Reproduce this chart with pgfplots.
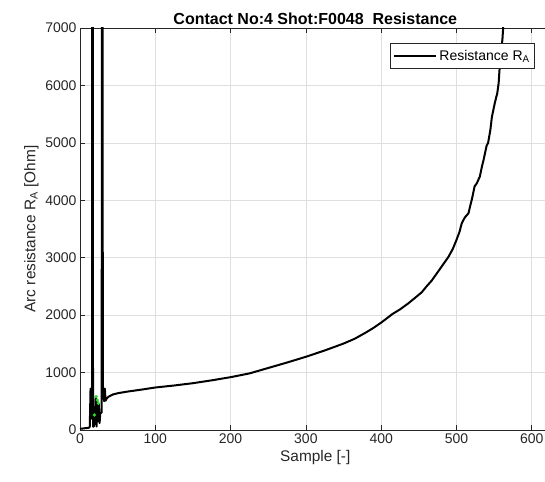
\documentclass[border=0pt]{standalone}
\usepackage{pgfplots}
\pgfplotsset{compat=1.18}
\usepackage{fontspec}
\setmainfont{Liberation Sans}
\definecolor{axgray}{RGB}{38,38,38}
\definecolor{gridgray}{RGB}{223,223,223}
\definecolor{mgreen}{RGB}{40,220,40}
\begin{document}
\begin{tikzpicture}
\begin{axis}[
  scale only axis,
  width=470.6pt, height=402pt,
  xmin=0, xmax=625, ymin=0, ymax=7000,
  xtick={0,100,...,600}, ytick={0,1000,...,7000},
  grid=major,
  major grid style={gridgray, line width=0.6pt},
  axis line style={axgray, line width=0.7pt},
  tick style={axgray, line width=0.7pt},
  tick align=inside,
  major tick length=5pt,
  scaled y ticks=false,
  /pgf/number format/assume math mode=true,
  /pgf/number format/1000 sep={},
  ticklabel style={font=\fontsize{14}{16}\selectfont, text=axgray},
  xlabel={Sample [-]},
  ylabel={Arc resistance R\textsubscript{A} [Ohm]},
  label style={font=\fontsize{15.4}{18}\selectfont, text=axgray},
  title={\textbf{Contact No:4 Shot:F0048\ \ Resistance}},
  title style={font=\fontsize{16}{18}\selectfont, yshift=-6pt},
  legend style={at={(0.967,0.9634)}, anchor=north east, draw=axgray, line width=0.6pt,
    font=\fontsize{14}{16}\selectfont, inner xsep=3pt, inner ysep=5pt},
  legend cell align=left,
  legend image code/.code={\draw[#1] (0pt,0pt) -- (42pt,0pt);},
]
\addplot[black, line width=2pt, line join=round] coordinates {
(0,20) (3,25) (6,30) (9,35) (12,40) (13,60) (14,720) (15.3,200) (16,200) (16.3,9000) (17,9000) (17.3,60) (18.5,60) (19,400) (20,100) (21,580) (22,60) (23,500) (24,150) (25,450) (26,120) (27,300) (28.8,300) (29.1,9000) (30,9000) (30.3,730) (31,730) (32,500) (33,720) (34,510) (35,540) (38,580) (44,620) (50,640) (62,667) (80,700) (100,740) (125,775) (150,815) (175,865) (200,920) (225,985) (250,1080) (275,1175) (300,1275) (325,1385) (350,1505) (365,1590) (380,1700) (390,1780) (400,1870) (407,1940) (415,2020) (425,2100) (436,2205) (447,2323) (454,2400) (460,2497) (467,2600) (474,2729) (481,2860) (489,3008) (495,3150) (500,3310) (504,3450) (507,3600) (511,3700) (516,3775) (518,3890) (521,4050) (524,4239) (527,4297) (531,4413) (534,4600) (536,4704) (540,4950) (542,5000) (545,5226) (547,5450) (549,5575) (551,5700) (553,5807) (554,5850) (556,6040) (557,6250) (558,6388) (559,6500) (560,6678) (561,6800) (562,7000) (564,7400)
};
\addlegendentry{Resistance R\textsubscript{A}}
\addplot[only marks, mark=*, mark size=1.5pt, mgreen, forget plot] coordinates {
(19,261) (21.5,580) (23,520) (24.5,465)
};
\end{axis}
\pgfresetboundingbox
\useasboundingbox ([xshift=-80pt,yshift=-51pt]current axis.south west) rectangle ([xshift=-5.6pt,yshift=28pt]current axis.north east);
\end{tikzpicture}
\end{document}
